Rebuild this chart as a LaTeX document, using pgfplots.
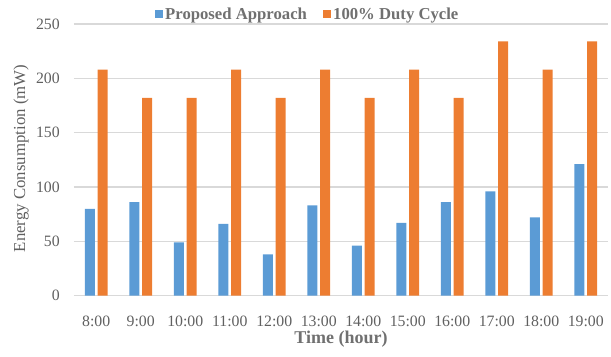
\documentclass[border=0pt]{standalone}
\usepackage{fontspec}
\setmainfont{Liberation Serif}
\usepackage{pgfplots}
\pgfplotsset{compat=1.18}
\definecolor{cblue}{HTML}{5B9BD5}
\definecolor{corange}{HTML}{ED7D31}
\definecolor{tgray}{HTML}{606060}
\definecolor{lgray}{HTML}{707070}
\definecolor{gridc}{HTML}{D9D9D9}
\pgfplotsset{sqleg/.style={legend image code/.code={\fill[##1] (0bp,-4bp) rectangle (8bp,4bp);}}}
\begin{document}
\begin{tikzpicture}
\path[use as bounding box] (-74bp,-61.3bp) rectangle (537bp,295.7bp);
\begin{axis}[
  scale only axis, width=534bp, height=271.7bp,
  at={(0,0)}, anchor=south west,
  xmin=-0.5, xmax=11.5, ymin=0, ymax=250,
  ytick={0,50,100,150,200,250},
  xtick={0,1,2,3,4,5,6,7,8,9,10,11},
  xticklabels={8:00,9:00,10:00,11:00,12:00,13:00,14:00,15:00,16:00,17:00,18:00,19:00},
  ybar, bar width=10bp,
  axis line style={draw=none},
  tick style={draw=none},
  ymajorgrids, major grid style={draw=gridc, line width=1.3bp},
  xticklabel style={font=\fontsize{15.8bp}{18bp}\selectfont, text=tgray, anchor=base, yshift=-26.3bp, inner sep=0pt},
  yticklabel style={font=\fontsize{15.8bp}{18bp}\selectfont, text=tgray, anchor=east, xshift=-14bp, inner sep=0pt},
  /pgf/number format/assume math mode=true,
  clip=false,
  legend columns=2,
  legend cell align=left,
  legend style={at={(rel axis cs:0,1)}, anchor=west, xshift=81bp, yshift=10bp, draw=none, fill=none, inner sep=0pt,
    font=\bfseries\fontsize{16.7bp}{18bp}\selectfont, text=lgray},
]
\addplot[fill=cblue, draw=none, bar shift=-6.4bp, sqleg] coordinates {
(0,80) (1,86) (2,49) (3,66) (4,38) (5,83) (6,46) (7,67) (8,86) (9,96) (10,72) (11,121)};
\addlegendentry{\makebox[156bp][l]{Proposed Approach}}
\addplot[fill=corange, draw=none, bar shift=6.4bp, sqleg] coordinates {
(0,208) (1,182) (2,182) (3,208) (4,182) (5,208) (6,182) (7,208) (8,182) (9,234) (10,208) (11,234)};
\addlegendentry{100\% Duty Cycle}
\node[rotate=90, font=\fontsize{16.8bp}{18bp}\selectfont, text=tgray] at ([xshift=-53bp]rel axis cs:0,0.505) {Energy Consumption (mW)};
\node[font=\bfseries\fontsize{18bp}{20bp}\selectfont, text=lgray] at ([yshift=-43bp]rel axis cs:0.5,0) {Time (hour)};
\end{axis}
\end{tikzpicture}
\end{document}
